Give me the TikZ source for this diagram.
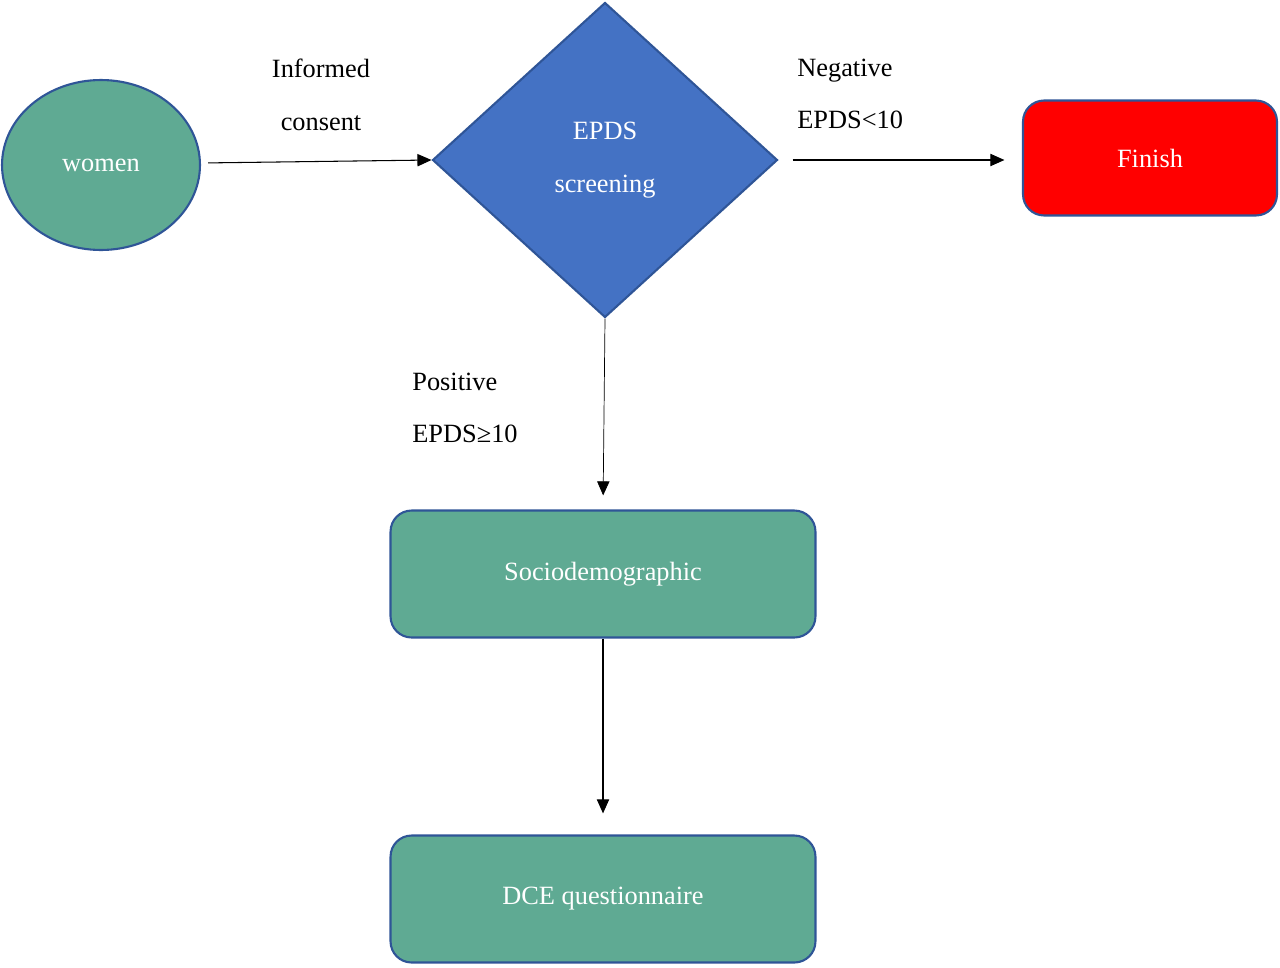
\documentclass[tikz,border=0pt]{standalone}
\usepackage{fontspec}
\setmainfont{Liberation Serif}
\usetikzlibrary{shapes.geometric,arrows.meta}
\definecolor{teal1}{HTML}{5FAA93}
\definecolor{blue1}{HTML}{4472C4}
\definecolor{edge1}{HTML}{2F5597}
\begin{document}
\begin{tikzpicture}[x=0.02cm, y=-0.02cm,
    txt/.style = {font=\fontsize{15}{30}\selectfont},
    box/.style = {rectangle, rounded corners=12pt, draw=edge1, line width=1.2pt, fill=teal1, text=white, txt, minimum width=8.5cm, minimum height=2.54cm},
    arr/.style = {-{Triangle[length=8pt,width=7pt]}, line width=0.6pt}]
    \useasboundingbox (0,0) rectangle (1280,967);

    \node[ellipse, draw=edge1, line width=1.2pt, fill=teal1, text=white, txt, minimum width=3.96cm, minimum height=3.4cm] (women) at (101,165) {women};
    \node[diamond, draw=edge1, line width=1.2pt, fill=blue1, text=white, txt, align=center, minimum width=6.9cm, minimum height=6.3cm, inner sep=0] (epds) at (605,160) {EPDS\\screening};
    \node[box, fill=red, minimum width=5.08cm, minimum height=2.3cm] (finish) at (1150,158) {Finish};
    \node[box] (socio) at (603,574) {Sociodemographic};
    \node[box] (dce) at (603,899) {DCE questionnaire};

    \draw[arr, shorten <=4pt] (women.east |- 0,163) -- (epds.west);
    \draw[arr, shorten <=8pt, shorten >=10pt] (epds.east) -- (finish.west |- epds.east);
    \draw[arr, line width=0.4pt, shorten >=8pt] (epds.south) -- (socio.north);
    \draw[arr, shorten >=12pt] (socio.south) -- (dce.north);

    \node[txt, align=center] (informed) at (321,95) {Informed\\consent};
    \node[txt, align=left, anchor=west, inner sep=0] (negative) at (797,94) {Negative\\EPDS<10};
    \node[txt, align=left, anchor=west, inner sep=0] (positive) at (412,408) {Positive\\EPDS≥10};
  \end{tikzpicture}
\end{document}
